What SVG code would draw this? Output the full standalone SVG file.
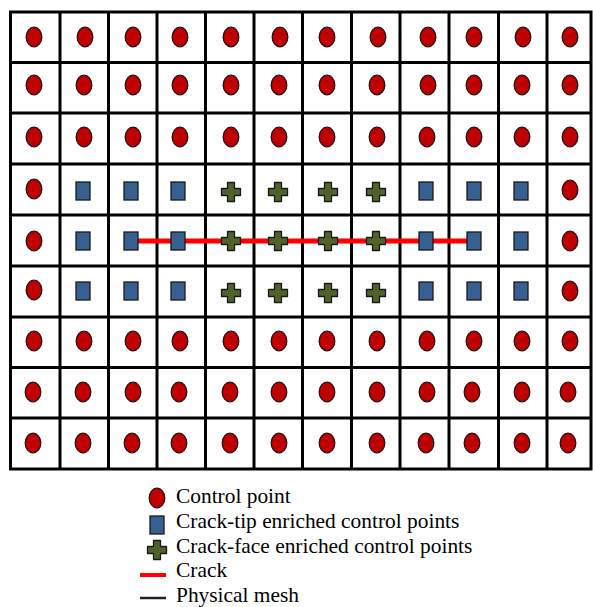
<svg xmlns="http://www.w3.org/2000/svg" width="593" height="607" viewBox="0 0 593 607">
<style>
.mesh{stroke:#000;stroke-width:3;fill:none}
.lbl{font-family:"Liberation Serif","Times New Roman",serif;font-size:21.4px;fill:#000}
</style>
<defs>
<ellipse id="cp" cx="0" cy="0" rx="7.8" ry="9.8" fill="#C00000" stroke="#2a1010" stroke-width="1.3"/>
<rect id="tp" x="-7" y="-9" width="14" height="18" fill="#376092" stroke="#1a1a1a" stroke-width="1.3"/>
<path id="fp" d="M-3.5,-9.5 h7 v6 h6 v7 h-6 v6 h-7 v-6 h-6 v-7 h6 z" fill="#4F6228" stroke="#1a1a1a" stroke-width="1.3" stroke-linejoin="round"/>
</defs>
<rect width="593" height="607" fill="#fff"/>
<g id="mesh" class="mesh">
<rect x="10.5" y="12" width="580.5" height="457"/>
<path d="M60,12V469M108.5,12V469M157,12V469M205.5,12V469M254,12V469M302.5,12V469M351.5,12V469M400,12V469M449,12V469M498.5,12V469M547,12V469"/>
<path d="M10.5,62.5H591M10.5,113H591M10.5,164H591M10.5,215H591M10.5,266H591M10.5,317H591M10.5,367.5H591M10.5,418H591"/>
</g>
<g id="connectors">
<line id="crack" x1="133" y1="241" x2="474" y2="241" stroke="#FF0000" stroke-width="5"/>
</g>
<g id="points">
<g id="row1">
<use href="#cp" x="34" y="37"/><use href="#cp" x="85" y="37"/><use href="#cp" x="133" y="37"/><use href="#cp" x="180" y="37"/><use href="#cp" x="231" y="37"/><use href="#cp" x="280" y="37"/><use href="#cp" x="327" y="37"/><use href="#cp" x="378" y="37"/><use href="#cp" x="428" y="37"/><use href="#cp" x="474" y="37"/><use href="#cp" x="523" y="37"/><use href="#cp" x="570" y="37"/>
</g>
<g id="row2">
<use href="#cp" x="34" y="85"/><use href="#cp" x="84" y="85"/><use href="#cp" x="133" y="85"/><use href="#cp" x="180" y="85"/><use href="#cp" x="231" y="85"/><use href="#cp" x="279" y="85"/><use href="#cp" x="327" y="85"/><use href="#cp" x="377" y="85"/><use href="#cp" x="428" y="85"/><use href="#cp" x="474" y="85"/><use href="#cp" x="522" y="85"/><use href="#cp" x="570" y="85"/>
</g>
<g id="row3">
<use href="#cp" x="34" y="137"/><use href="#cp" x="84" y="137"/><use href="#cp" x="133" y="137"/><use href="#cp" x="180" y="137"/><use href="#cp" x="231" y="137"/><use href="#cp" x="279" y="137"/><use href="#cp" x="327" y="137"/><use href="#cp" x="377" y="137"/><use href="#cp" x="427" y="137"/><use href="#cp" x="474" y="137"/><use href="#cp" x="522" y="137"/><use href="#cp" x="570" y="137"/>
</g>
<g id="row4">
<use href="#cp" x="34" y="189"/><use href="#tp" x="83" y="191"/><use href="#tp" x="131" y="191"/><use href="#tp" x="178" y="191"/><use href="#fp" x="231" y="192"/><use href="#fp" x="278" y="192"/><use href="#fp" x="328" y="192"/><use href="#fp" x="376" y="192"/><use href="#tp" x="426" y="191"/><use href="#tp" x="474" y="191"/><use href="#tp" x="521" y="191"/><use href="#cp" x="570" y="190"/>
</g>
<g id="row5">
<use href="#cp" x="34" y="241"/><use href="#tp" x="83" y="241"/><use href="#tp" x="131" y="241"/><use href="#tp" x="178" y="241"/><use href="#fp" x="231" y="241"/><use href="#fp" x="278" y="241"/><use href="#fp" x="328" y="241"/><use href="#fp" x="376" y="241"/><use href="#tp" x="426" y="241"/><use href="#tp" x="474" y="241"/><use href="#tp" x="521" y="241"/><use href="#cp" x="570" y="241"/>
</g>
<g id="row6">
<use href="#cp" x="34" y="290"/><use href="#tp" x="83" y="291"/><use href="#tp" x="131" y="291"/><use href="#tp" x="178" y="291"/><use href="#fp" x="231" y="293"/><use href="#fp" x="278" y="293"/><use href="#fp" x="328" y="293"/><use href="#fp" x="376" y="293"/><use href="#tp" x="426" y="291"/><use href="#tp" x="474" y="291"/><use href="#tp" x="521" y="291"/><use href="#cp" x="570" y="291"/>
</g>
<g id="row7">
<use href="#cp" x="34" y="341"/><use href="#cp" x="84" y="341"/><use href="#cp" x="133" y="341"/><use href="#cp" x="180" y="341"/><use href="#cp" x="231" y="341"/><use href="#cp" x="279" y="341"/><use href="#cp" x="327" y="341"/><use href="#cp" x="377" y="341"/><use href="#cp" x="427" y="341"/><use href="#cp" x="474" y="341"/><use href="#cp" x="522" y="341"/><use href="#cp" x="570" y="341"/>
</g>
<g id="row8">
<use href="#cp" x="33" y="392"/><use href="#cp" x="83" y="392"/><use href="#cp" x="133" y="392"/><use href="#cp" x="179" y="392"/><use href="#cp" x="230" y="392"/><use href="#cp" x="279" y="392"/><use href="#cp" x="327" y="392"/><use href="#cp" x="377" y="392"/><use href="#cp" x="427" y="392"/><use href="#cp" x="472" y="392"/><use href="#cp" x="522" y="392"/><use href="#cp" x="568" y="392"/>
</g>
<g id="row9">
<use href="#cp" x="33" y="443"/><use href="#cp" x="83" y="443"/><use href="#cp" x="132" y="443"/><use href="#cp" x="179" y="443"/><use href="#cp" x="230" y="443"/><use href="#cp" x="279" y="443"/><use href="#cp" x="327" y="443"/><use href="#cp" x="377" y="443"/><use href="#cp" x="426" y="443"/><use href="#cp" x="472" y="443"/><use href="#cp" x="522" y="443"/><use href="#cp" x="568" y="443"/>
</g>
</g>
<g id="legend">
<use href="#cp" x="157" y="498"/>
<use href="#tp" x="157" y="525"/>
<use href="#fp" x="157" y="550"/>
<line x1="140" y1="575" x2="166" y2="575" stroke="#FF0000" stroke-width="4"/>
<line x1="140" y1="598" x2="166" y2="598" stroke="#222" stroke-width="2.5"/>
<text class="lbl" x="176" y="503">Control point</text>
<text class="lbl" x="176" y="528">Crack-tip enriched control points</text>
<text class="lbl" x="176" y="553">Crack-face enriched control points</text>
<text class="lbl" x="176" y="577">Crack</text>
<text class="lbl" x="176" y="602">Physical mesh</text>
</g>
</svg>
